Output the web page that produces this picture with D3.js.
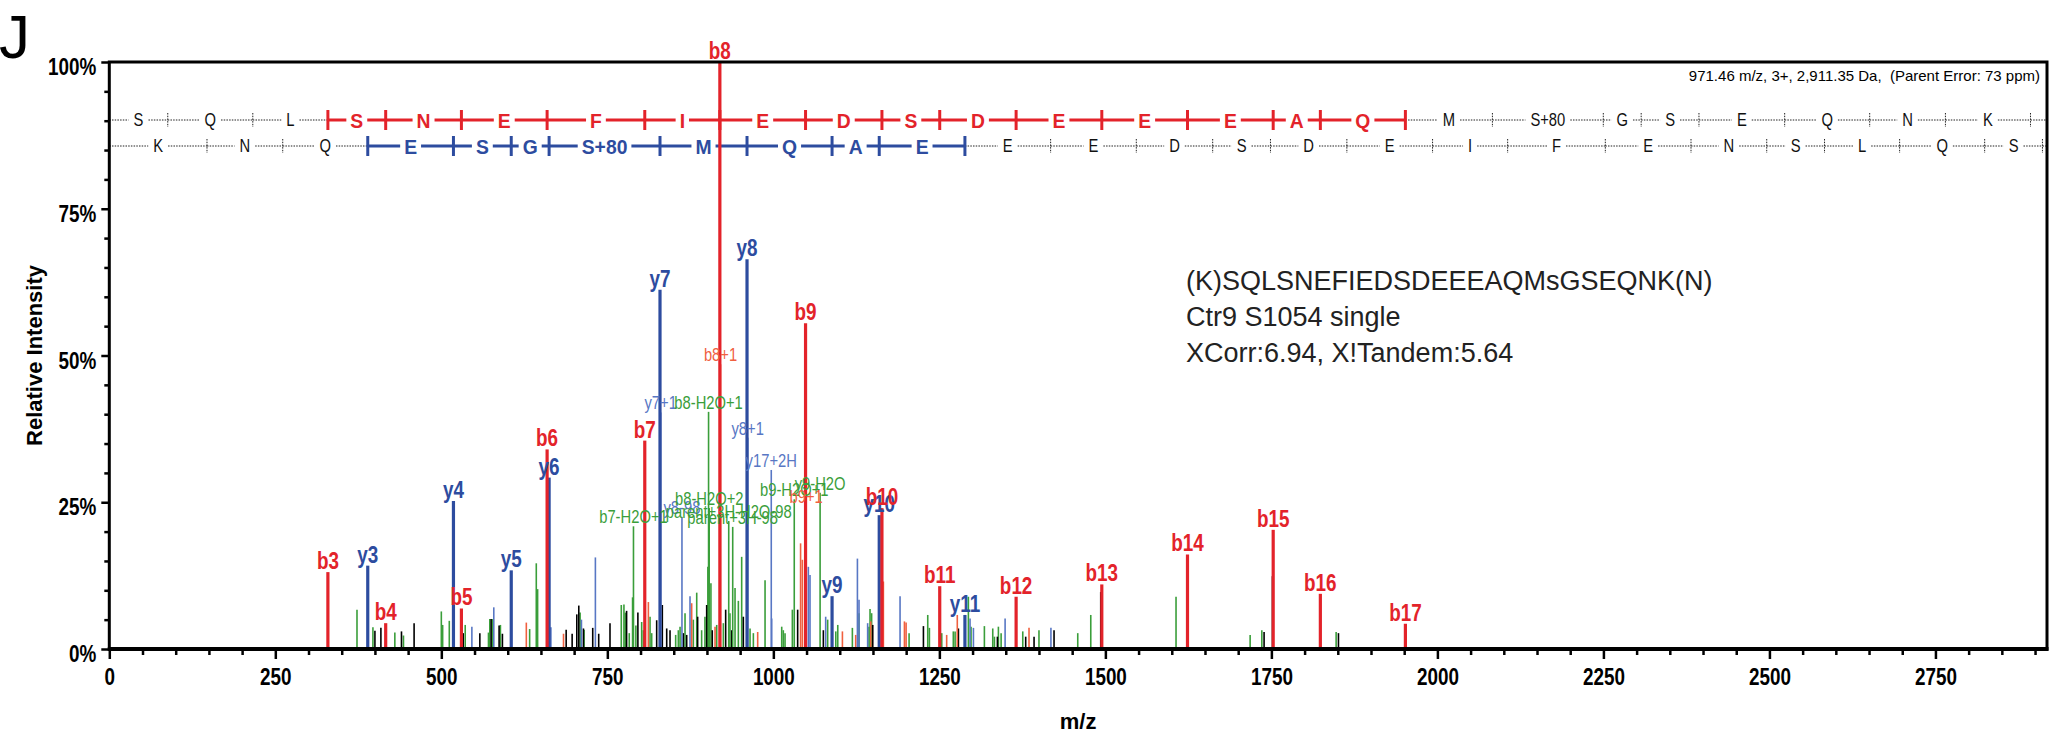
<!DOCTYPE html>
<html>
<head>
<meta charset="utf-8">
<script src="https://cdn.jsdelivr.net/npm/d3@7"></script>
<style>
  body { margin: 0; background: #fff; }
  svg { display: block; }
  .narrow { font-family: "Liberation Sans Narrow", "Arial Narrow", "Liberation Sans", Arial, sans-serif; }
  .plain { font-family: "Liberation Sans", Arial, Helvetica, sans-serif; }
</style>
</head>
<body>
<svg id="chart" width="2059" height="742"></svg>
<script>
// ---- data ----
const bNames = ['b3', 'b4', 'b5', 'b6', 'b7', 'b8', 'b9', 'b10', 'b11', 'b12', 'b13', 'b14', 'b15', 'b16', 'b17'];
const bMz = [329.18, 416.21, 530.26, 659.30, 806.37, 919.45, 1048.49, 1163.52, 1250.55, 1365.58, 1494.62, 1623.66, 1752.71, 1823.74, 1951.80];
const bInt = [13.1, 4.4, 6.9, 34.0, 35.5, 100, 55.5, 24.0, 10.7, 8.9, 11.0, 16.1, 20.3, 9.4, 4.3];

const yNames = ['y3', 'y4', 'y5', 'y6', 'y7', 'y8', 'y9', 'y10', 'y11'];
const yMz = [389.21, 518.26, 605.29, 662.31, 829.31, 960.35, 1088.41, 1159.45, 1288.49];
const yInt = [14.2, 25.2, 13.4, 29.2, 61.2, 66.4, 9.0, 22.8, 5.8];

// smaller annotated peaks (isotopes, neutral losses, parent)
const minorNames = ['b7-H2O+1', 'y7+1', 'y8-98', 'b8-H2O+1', 'b8-H2O+2', 'parent+3H-H2O-98', 'parent+3H-98',
  'b8+1', 'y8+1', 'y17+2H', 'b9-H2O+1', 'b9+1', 'y9-H2O'];
const minorMz = [789.36, 830.31, 862.37, 902.44, 903.44, 932.8, 938.8, 920.45, 961.35, 996.86, 1031.48, 1049.49, 1070.40];
const minorInt = [20.9, 40.3, 22.5, 40.4, 24.0, 21.8, 20.8, 48.5, 36.0, 30.5, 25.5, 24.4, 26.6];
const minorKind = ['n', 'y', 'y', 'n', 'n', 'n', 'n', 'b', 'y', 'y', 'n', 'b', 'n'];

// unlabelled peaks by colour
const greenMz = [373, 397, 430, 443, 500, 502, 512, 536, 571, 573, 577, 589, 633, 643, 645, 709, 715, 771, 775, 777, 783, 788, 793,
  801.7, 804.2, 814.3, 816.8, 852.9, 856.9, 859.5, 867, 879.5, 884.6, 892, 897, 901.4, 906, 914.7, 924.7, 934.7, 942.3, 947.3,
  952.3, 964.9, 969.9, 987.5, 1012.6, 1015, 1017.6, 1028.6, 1081.8, 1094, 1097, 1119, 1129, 1144, 1145.6, 1148, 1204.4,
  1232.5, 1235, 1253.6, 1271, 1273.7, 1293.7, 1297.7, 1317.8, 1330.4, 1332.9, 1338.9, 1343, 1375.6, 1400, 1458.4, 1478,
  1606.4, 1718, 1735.6, 1847.5];
const greenInt = [6.7, 3.7, 2.8, 2.3, 6.4, 4.1, 4.8, 4.1, 2.8, 5.1, 5.1, 4.1, 3.4, 14.6, 10.2, 6.2, 3.3, 7.5, 7.6, 6.2, 2.7, 8.8, 4.0,
  4.6, 3.2, 5.5, 2.7, 2.4, 3.2, 3.8, 6.1, 5.0, 9.6, 3.2, 5.5, 14.0, 11.2, 4.1, 4.4, 6.1, 10.4, 8.2,
  15.7, 3.5, 2.7, 11.7, 3.8, 3.2, 2.7, 6.7, 5.0, 3.0, 4.1, 3.6, 6.1, 3.8, 6.8, 6.1, 2.7,
  5.8, 3.6, 2.7, 3.0, 3.0, 8.9, 3.8, 3.9, 3.5, 2.1, 3.8, 2.7, 3.0, 3.2, 2.7, 5.8,
  8.9, 2.4, 3.2, 2.9];
const blackMz = [400, 409, 440, 459, 533, 558, 575, 587, 592, 688, 697, 704, 707, 714, 728, 737, 754, 779, 796,
  824.3, 832.8, 839.4, 844.4, 864.5, 869.5, 886, 899.6, 908, 928.2, 937.3, 954.8, 1036.6, 1075.3, 1149.7, 1226,
  1278.7, 1337.4, 1380, 1392.6, 1422.7, 1493, 1739, 1751.6, 1851];
const blackInt = [3.1, 3.6, 3.0, 4.4, 2.7, 2.7, 5.1, 4.0, 2.6, 3.3, 2.6, 5.9, 7.4, 3.5, 3.6, 2.6, 4.4, 6.5, 6.2,
  4.9, 7.5, 3.5, 3.2, 2.7, 2.4, 5.5, 7.5, 3.2, 6.7, 3.2, 5.5, 6.7, 3.2, 4.1, 3.9,
  3.5, 2.1, 2.1, 2.1, 3.2, 9.7, 2.9, 12.4, 2.7];
const redMz = [628, 684, 811.8, 877, 912.2, 976.4, 1041, 1043.7, 1104, 1124, 1146.7, 1165.7, 1197.4, 1199.9, 1261, 1277, 1385];
const redInt = [4.5, 2.6, 8.0, 7.8, 3.8, 2.9, 18, 15.2, 3.0, 2.4, 4.7, 11.5, 4.7, 4.5, 2.4, 5.8, 3.6];
const blueMz = [546, 579, 665, 711, 732, 874.5, 997.5, 1052.7, 1055.2, 1078.8, 1126.6, 1129, 1142, 1190.8, 1296.2, 1301.3, 1349, 1418];
const blueInt = [3.8, 7.1, 3.7, 5.0, 15.6, 9.0, 5.2, 14, 12.6, 5.5, 15.4, 8.4, 4.4, 9.0, 5.2, 3.6, 5.2, 3.6];

// sequence ladders (fragment m/z positions)
const bResidues = ['S', 'Q', 'L', 'S', 'N', 'E', 'F', 'I', 'E', 'D', 'S', 'D', 'E', 'E', 'E', 'A', 'Q', 'M', 'S+80', 'G', 'S', 'E', 'Q', 'N', 'K'];
const bLadder = [88.04, 216.10, 329.18, 416.21, 530.26, 659.30, 806.37, 919.45, 1048.49, 1163.52, 1250.55, 1365.58, 1494.62,
  1623.66, 1752.71, 1823.74, 1951.80, 2082.84, 2249.84, 2306.86, 2393.89, 2522.94, 2650.99, 2765.04, 2893.13];
const yResidues = ['K', 'N', 'Q', 'E', 'S', 'G', 'S+80', 'M', 'Q', 'A', 'E', 'E', 'E', 'D', 'S', 'D', 'E', 'I', 'F', 'E', 'N', 'S', 'L', 'Q', 'S'];
const yLadder = [147.11, 261.16, 389.21, 518.26, 605.29, 662.31, 829.31, 960.35, 1088.41, 1159.45, 1288.49, 1417.53, 1546.57,
  1661.60, 1748.63, 1863.66, 1992.70, 2105.79, 2252.86, 2381.90, 2495.94, 2582.97, 2696.06, 2824.12, 2911.15];
const bCovered = [3, 17];
const yCovered = [3, 11];

const xTicks = [0, 250, 500, 750, 1000, 1250, 1500, 1750, 2000, 2250, 2500, 2750];
const yTicks = [0, 25, 50, 75, 100];
const infoLines = ['(K)SQLSNEFIEDSDEEEAQMsGSEQNK(N)', 'Ctr9 S1054 single', 'XCorr:6.94, X!Tandem:5.64'];
const headerText = '971.46 m/z, 3+, 2,911.35 Da,  (Parent Error: 73 ppm)';

// ---- drawing ----
const RED = '#e3232a';
const BLUE = '#2d4c9f';
const GREEN = '#3a9e3a';
const LRED = '#f0603f';
const LBLUE = '#5877c4';
const NARROW = 0.82;

const svg = d3.select('#chart');
const plotLeft = 109.3;
const plotRight = 2047;
const plotTop = 62;
const plotBottom = 649;

const x = d3.scaleLinear().domain([0, 2918]).range([plotLeft, plotRight]);
const y = d3.scaleLinear().domain([0, 100]).range([plotBottom, plotTop]);

// no condensed face is installed, so squeeze the glyphs horizontally
function squeeze(sel, f) {
  sel.each(function () {
    const w = this.getComputedTextLength();
    d3.select(this).attr('textLength', w * f).attr('lengthAdjust', 'spacingAndGlyphs');
  });
}

// panel letter
svg.append('text').attr('class', 'plain')
  .attr('x', -1).attr('y', 58)
  .style('font-size', '62px')
  .text('J');

// axes
const minorX = d3.range(0, 2901, 50).filter((d) => d % 250 !== 0);
const minorY = d3.range(0, 101, 5).filter((d) => d % 25 !== 0);

const xAxisMinor = svg.append('g').attr('transform', `translate(0,${plotBottom})`)
  .call(d3.axisBottom(x).tickValues(minorX).tickSize(6).tickFormat(''));
const xAxis = svg.append('g').attr('transform', `translate(0,${plotBottom})`)
  .call(d3.axisBottom(x).tickValues(xTicks).tickSize(10).tickPadding(10).tickFormat(d3.format('d')));
const yAxisMinor = svg.append('g').attr('transform', `translate(${plotLeft},0)`)
  .call(d3.axisLeft(y).tickValues(minorY).tickSize(5).tickFormat(''));
const yAxis = svg.append('g').attr('transform', `translate(${plotLeft},0)`)
  .call(d3.axisLeft(y).tickValues(yTicks).tickSize(8).tickPadding(5).tickFormat((d) => `${d}%`));

[xAxisMinor, xAxis, yAxisMinor, yAxis].forEach((g) => {
  g.select('.domain').remove();
  g.selectAll('line').attr('stroke', '#000').attr('stroke-width', 2.5);
});
xAxis.selectAll('text')
  .attr('class', 'narrow')
  .attr('fill', '#000')
  .style('font-size', '23px')
  .style('font-weight', 'bold')
  .call(squeeze, NARROW);
yAxis.selectAll('text')
  .attr('class', 'narrow')
  .attr('fill', '#000')
  .attr('dy', '0.55em')
  .style('font-size', '23px')
  .style('font-weight', 'bold')
  .call(squeeze, NARROW);

svg.append('text').attr('class', 'plain')
  .attr('x', (plotLeft + plotRight) / 2).attr('y', 729)
  .attr('text-anchor', 'middle')
  .style('font-size', '22px').style('font-weight', 'bold')
  .text('m/z');

svg.append('text').attr('class', 'plain')
  .attr('transform', `translate(42,${(plotTop + plotBottom) / 2}) rotate(-90)`)
  .attr('text-anchor', 'middle')
  .style('font-size', '22px').style('font-weight', 'bold')
  .text('Relative Intensity');

// header line at the top right
svg.append('text').attr('class', 'plain')
  .attr('x', 2040).attr('y', 81)
  .attr('text-anchor', 'end')
  .style('font-size', '15px')
  .style('white-space', 'pre')
  .text(headerText);

// sequence rows
function drawRow(ladder, residues, rowY, covered, color) {
  const g = svg.append('g');
  const pos = [0].concat(ladder, [2918]);
  const isCol = (j) => j >= covered[0] && j <= covered[1];
  for (let i = 0; i < pos.length - 1; i += 1) {
    const x0 = x(pos[i]);
    const x1 = x(pos[i + 1]);
    const colored = isCol(i) && isCol(i + 1);
    const lineStyle = (sel) => {
      if (colored) {
        sel.attr('stroke', color).attr('stroke-width', 3);
      } else {
        sel.attr('stroke', '#222').attr('stroke-width', 1).attr('stroke-dasharray', '1.5,1.2');
      }
    };
    if (i < residues.length) {
      const mid = (x0 + x1) / 2;
      const f = colored ? 0.92 : NARROW;
      const t = g.append('text')
        .attr('class', 'narrow')
        .attr('x', mid).attr('y', rowY)
        .attr('dy', '0.36em')
        .attr('text-anchor', 'middle')
        .attr('fill', colored ? color : '#111')
        .style('font-size', colored ? '21px' : '18px')
        .style('font-weight', colored ? 'bold' : 'normal')
        .text(residues[i]);
      const w = (t.node().getComputedTextLength() * f) / 2 + (colored ? 4 : 5);
      t.call(squeeze, f);
      g.append('line').attr('x1', x0).attr('x2', Math.max(x0, mid - w))
        .attr('y1', rowY).attr('y2', rowY).call(lineStyle);
      g.append('line').attr('x1', Math.min(x1, mid + w)).attr('x2', x1)
        .attr('y1', rowY).attr('y2', rowY).call(lineStyle);
    } else {
      g.append('line').attr('x1', x0).attr('x2', x1)
        .attr('y1', rowY).attr('y2', rowY).call(lineStyle);
    }
  }
  ladder.forEach((m, k) => {
    const j = k + 1;
    if (isCol(j)) {
      g.append('line').attr('x1', x(m)).attr('x2', x(m))
        .attr('y1', rowY - 10).attr('y2', rowY + 10)
        .attr('stroke', color).attr('stroke-width', 3);
    } else {
      g.append('line').attr('x1', x(m)).attr('x2', x(m))
        .attr('y1', rowY - 7).attr('y2', rowY + 7)
        .attr('stroke', '#222').attr('stroke-width', 1).attr('stroke-dasharray', '1.5,1.2');
    }
  });
}
drawRow(bLadder, bResidues, 120, bCovered, RED);
drawRow(yLadder, yResidues, 146, yCovered, BLUE);

// peaks
function drawPeaks(mz, inten, color, width) {
  svg.append('g')
    .selectAll('line')
    .data(mz.map((m, i) => ({ m, v: inten[i] })))
    .join('line')
    .attr('x1', (d) => x(d.m)).attr('x2', (d) => x(d.m))
    .attr('y1', y(0)).attr('y2', (d) => y(d.v))
    .attr('stroke', color)
    .attr('stroke-width', width);
}
drawPeaks(greenMz, greenInt, GREEN, 1.6);
drawPeaks(blackMz, blackInt, '#000', 1.6);
drawPeaks(redMz, redInt, LRED, 1.6);
drawPeaks(blueMz, blueInt, LBLUE, 1.6);

const kindColor = { n: GREEN, b: LRED, y: LBLUE };
minorKind.forEach((k, i) => {
  drawPeaks([minorMz[i]], [minorInt[i]], kindColor[k], 1.6);
});
drawPeaks(yMz, yInt, BLUE, 3.2);
drawPeaks(bMz, bInt, RED, 3.2);

// labels
function drawLabels(names, mz, inten, color, size, weight) {
  svg.append('g')
    .selectAll('text')
    .data(names.map((n, i) => ({ n, m: mz[i], v: inten[i], c: Array.isArray(color) ? color[i] : color })))
    .join('text')
    .attr('class', 'narrow')
    .attr('x', (d) => x(d.m))
    .attr('y', (d) => y(d.v) - 3)
    .attr('text-anchor', 'middle')
    .attr('fill', (d) => d.c)
    .style('font-size', `${size}px`)
    .style('font-weight', weight)
    .text((d) => d.n)
    .call(squeeze, NARROW);
}
drawLabels(minorNames, minorMz, minorInt, minorKind.map((k) => kindColor[k]), 18, 'normal');
drawLabels(yNames, yMz, yInt, BLUE, 23, 'bold');
drawLabels(bNames, bMz, bInt, RED, 23, 'bold');

// frame
svg.append('rect')
  .attr('x', plotLeft).attr('y', plotTop)
  .attr('width', plotRight - plotLeft).attr('height', plotBottom - plotTop)
  .attr('fill', 'none')
  .attr('stroke', '#000')
  .attr('stroke-width', 3);
svg.append('line')
  .attr('x1', plotLeft - 1.5).attr('x2', plotRight + 1.5)
  .attr('y1', plotBottom).attr('y2', plotBottom)
  .attr('stroke', '#000').attr('stroke-width', 4);

// peptide info
svg.append('g').selectAll('text')
  .data(infoLines)
  .join('text')
  .attr('class', 'plain')
  .attr('x', 1186)
  .attr('y', (d, i) => 290 + i * 36)
  .style('font-size', '27px')
  .attr('fill', '#222')
  .text((d) => d);
</script>
</body>
</html>
